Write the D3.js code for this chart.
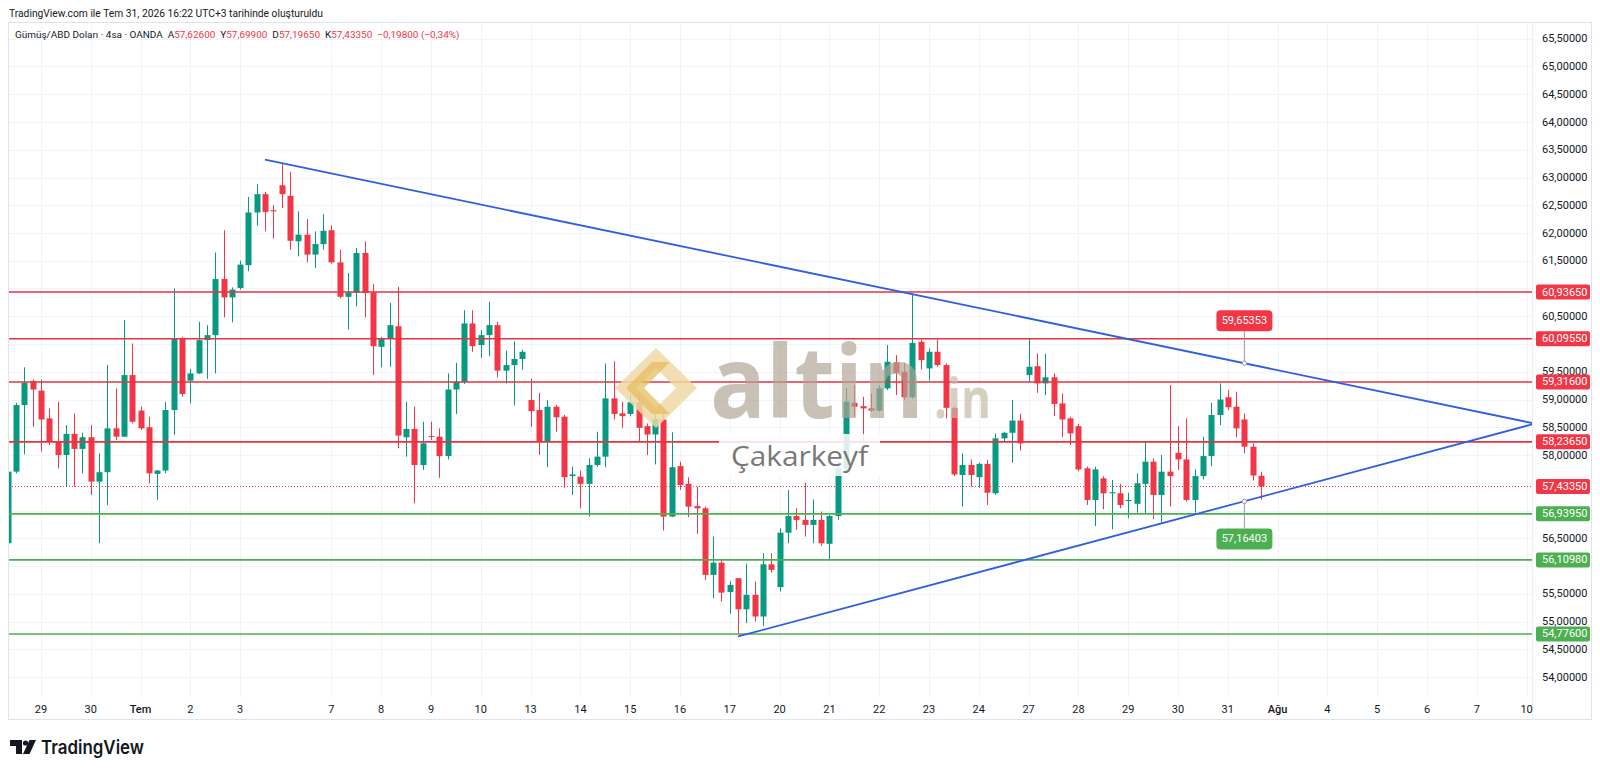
<!DOCTYPE html>
<html>
<head>
<meta charset="utf-8">
<script src="https://cdn.jsdelivr.net/npm/d3@7"></script>
<style>
  html, body { margin: 0; padding: 0; background: #fff; }
  svg { display: block; font-family: Roboto, "Noto Sans", sans-serif; }
</style>
</head>
<body>
<div id="chart"></div>
<script>
// 4h candles, first one sits at index -1 (clipped at the left edge)
const firstIndex = -1;
const open = [56.41, 57.70, 58.90, 59.33, 59.16, 58.66, 58.24, 58.00, 58.38, 58.11, 58.32, 57.52, 57.69, 58.48, 58.33, 59.44,
  58.80, 58.50, 57.66, 57.72, 58.81, 60.09, 59.34, 59.47, 60.07, 60.16, 61.17, 60.84, 61.01, 61.42, 62.37, 62.70,
  62.41, 62.86, 62.67, 61.85, 61.97, 61.61, 61.80, 62.05, 61.47, 60.85, 60.92, 61.64, 60.93, 59.95, 60.09, 60.32,
  58.32, 58.47, 57.82, 58.34, 58.33, 57.98, 59.18, 59.32, 60.37, 59.98, 60.16, 60.34, 59.52, 59.62, 59.73, 58.99,
  58.81, 58.24, 58.87, 58.69, 57.62, 57.61, 57.48, 57.82, 57.97, 59.02, 58.75, 58.74, 58.95, 58.52, 58.37, 58.64,
  56.89, 57.80, 57.48, 57.08, 57.04, 55.84, 56.06, 55.53, 55.78, 55.22, 55.48, 55.09, 56.03, 55.62, 56.60, 56.90,
  56.83, 56.74, 56.83, 56.40, 56.90, 57.76, 58.94, 58.88, 58.84, 58.80, 59.20, 59.67, 59.50, 59.04, 60.04, 59.56,
  59.86, 59.62, 58.85, 57.64, 57.82, 57.60, 57.84, 57.31, 58.30, 58.40, 58.62, 59.44, 59.60, 59.29, 59.40, 58.93,
  58.66, 58.52, 57.76, 57.19, 57.58, 57.31, 57.31, 57.17, 57.12, 57.48, 57.88, 57.28, 57.70, 58.04, 57.92, 57.19,
  57.62, 57.98, 58.72, 59.04, 58.87, 58.64, 58.15, 57.626];
const high = [57.75, 58.94, 59.58, 59.36, 59.36, 58.84, 58.96, 58.54, 58.75, 58.40, 58.54, 58.03, 59.62, 59.20, 60.43, 60.01,
  58.87, 58.69, 57.73, 58.96, 61.00, 60.13, 59.55, 60.40, 60.34, 61.65, 62.05, 61.02, 61.50, 62.65, 62.88, 62.74,
  62.50, 63.24, 63.10, 62.39, 62.25, 62.03, 62.34, 62.14, 61.70, 61.28, 61.73, 61.85, 61.08, 60.13, 60.74, 61.03,
  58.96, 58.87, 58.60, 58.60, 58.48, 59.47, 59.66, 60.61, 60.61, 60.25, 60.76, 60.40, 59.88, 60.05, 59.90, 59.38,
  59.12, 58.99, 58.90, 58.72, 57.79, 57.72, 57.94, 58.42, 59.65, 59.69, 58.96, 59.09, 59.12, 58.57, 58.73, 58.85,
  58.41, 57.88, 57.60, 57.43, 57.07, 56.53, 56.11, 55.73, 55.78, 56.04, 55.72, 56.23, 56.23, 56.68, 57.37, 57.04,
  57.50, 57.20, 56.98, 56.92, 57.88, 59.20, 59.26, 59.05, 59.11, 59.26, 59.98, 59.80, 59.66, 60.91, 60.08, 59.92,
  60.08, 59.65, 58.87, 58.03, 57.92, 57.86, 57.91, 58.39, 58.42, 58.99, 58.74, 60.10, 59.83, 59.82, 59.47, 59.11,
  58.69, 58.56, 57.79, 57.79, 57.62, 57.55, 57.48, 57.32, 57.67, 58.24, 57.94, 58.00, 59.26, 58.52, 58.66, 57.74,
  58.33, 58.94, 59.29, 59.17, 59.14, 58.75, 58.21, 57.699];
const low = [56.35, 57.67, 58.01, 58.51, 58.06, 58.18, 57.76, 57.43, 57.43, 57.67, 57.28, 56.41, 57.10, 58.27, 58.33, 58.57,
  58.45, 57.49, 57.19, 57.67, 58.36, 59.05, 58.93, 59.46, 59.37, 59.47, 60.48, 60.39, 60.98, 61.31, 62.13, 62.03,
  61.90, 62.45, 61.70, 61.58, 61.47, 61.37, 61.70, 61.45, 60.82, 60.26, 60.68, 60.48, 59.44, 59.58, 59.59, 58.12,
  57.97, 57.13, 57.73, 58.27, 57.59, 57.92, 58.74, 59.28, 59.86, 59.75, 59.78, 59.40, 59.29, 58.89, 59.53, 58.51,
  58.00, 57.78, 58.42, 57.41, 57.28, 57.04, 56.89, 57.79, 57.78, 58.64, 58.49, 58.70, 58.25, 58.00, 57.83, 56.64,
  56.88, 57.37, 56.88, 56.58, 55.75, 55.42, 55.36, 55.14, 54.78, 54.97, 55.00, 54.92, 55.88, 55.54, 56.41, 56.65,
  56.53, 56.41, 56.36, 56.11, 56.83, 57.66, 58.69, 58.24, 58.78, 58.78, 59.17, 59.08, 58.99, 59.02, 59.54, 59.34,
  59.59, 58.66, 57.62, 57.07, 57.43, 57.41, 57.10, 57.28, 58.24, 57.86, 58.08, 59.32, 59.12, 59.08, 58.70, 58.32,
  58.18, 57.71, 57.10, 56.72, 57.02, 56.66, 57.04, 56.86, 56.96, 56.94, 56.84, 56.78, 57.07, 57.73, 57.16, 56.96,
  57.56, 57.80, 58.54, 58.81, 58.32, 58.03, 57.54, 57.1965];
const close = [57.70, 58.90, 59.30, 59.18, 58.64, 58.24, 58.00, 58.38, 58.11, 58.32, 57.52, 57.69, 58.48, 58.33, 59.44, 58.60,
  58.48, 57.67, 57.72, 58.81, 60.09, 59.10, 59.47, 60.07, 60.16, 61.17, 60.84, 60.98, 61.43, 62.37, 62.70, 62.38,
  62.39, 62.70, 61.86, 61.97, 61.61, 61.80, 62.04, 61.47, 60.85, 60.93, 61.64, 60.92, 59.96, 60.09, 60.34, 58.35,
  58.47, 57.82, 58.21, 58.33, 57.98, 59.18, 59.32, 60.37, 59.96, 60.16, 60.34, 59.52, 59.62, 59.73, 59.86, 58.79,
  58.24, 58.87, 58.68, 57.60, 57.65, 57.48, 57.82, 57.97, 59.02, 58.74, 58.70, 58.95, 58.49, 58.37, 58.65, 56.89,
  57.78, 57.46, 57.07, 57.04, 55.84, 56.06, 55.52, 55.66, 55.22, 55.48, 55.09, 56.03, 55.93, 56.60, 56.90, 56.83,
  56.74, 56.83, 56.41, 56.90, 57.76, 58.96, 58.87, 58.84, 58.80, 59.20, 59.68, 59.48, 59.04, 60.02, 59.71, 59.86,
  59.62, 58.85, 57.65, 57.82, 57.64, 57.84, 57.32, 58.30, 58.40, 58.62, 58.21, 59.59, 59.29, 59.40, 58.92, 58.64,
  58.39, 57.74, 57.19, 57.74, 57.31, 57.33, 57.10, 57.19, 57.49, 57.88, 57.28, 57.70, 57.62, 57.92, 57.19, 57.62,
  57.98, 58.72, 59.00, 58.86, 58.48, 58.15, 57.63, 57.4335];

const priceTicks = [54, 54.5, 55, 55.5, 56, 56.5, 57, 57.5, 58, 58.5, 59, 59.5, 60, 60.5, 61, 61.5, 62, 62.5, 63, 63.5, 64, 64.5, 65, 65.5];
const dateLabels = ["29", "30", "Tem", "2", "3", "7", "8", "9", "10", "13", "14", "15", "16", "17", "20", "21", "22", "23", "24", "27", "28", "29", "30", "31", "Ağu", "4", "5", "6", "7", "10"];
const dateIndex = [3, 9, 15, 21, 27, 38, 44, 50, 56, 62, 68, 74, 80, 86, 92, 98, 104, 110, 116, 122, 128, 134, 140, 146, 152, 158, 164, 170, 176, 182];
const boldDates = ["Tem", "Ağu"];

const redLevels = [60.9365, 60.0955, 59.316, 58.2365];
const greenLevels = [56.9395, 56.1098, 54.776];
const lastPrice = 57.4335;

// triangle drawn on the chart: [candle index, price]
const upperTrend = [[30, 63.32], [183, 58.566]];
const lowerTrend = [[87, 54.73], [183, 58.566]];
const trendMarks = [{i: 148, v: 59.65353, side: "up"}, {i: 148, v: 57.16403, side: "down"}];

const symbolName = "Gümüş/ABD Doları · 4sa · OANDA";
const dayChange = -0.198, dayChangePct = -0.34;
const titleLine = "TradingView.com ile Tem 31, 2026 16:22 UTC+3 tarihinde oluşturuldu";

const UP = "#089981", DOWN = "#F23645", GREENLINE = "#4CAF50", BLUE = "#2f5fe0", TXT = "#131722";
const W = 1600, H = 772;
const pane = {left: 9, right: 1532, top: 23, bottom: 697};
const SP = "\u00a0\u00a0";

const fmt = v => d3.format(".5f")(v).replace(".", ",");

const candles = open.map((o, k) => ({i: firstIndex + k, o: o, h: high[k], l: low[k], c: close[k]}));

const x = d3.scaleLinear().domain([0, 150]).range([16, 1261]);
const y = d3.scaleLinear().domain([54, 65.5]).range([677, 38.75]);

const svg = d3.select("#chart").append("svg")
  .attr("width", W).attr("height", H);

svg.append("defs").append("clipPath").attr("id", "pane")
  .append("rect")
    .attr("x", pane.left).attr("y", pane.top)
    .attr("width", pane.right - pane.left).attr("height", pane.bottom - pane.top);

// frame + axis separators
svg.append("rect")
  .attr("x", 8.5).attr("y", 22.5).attr("width", 1583).attr("height", 697)
  .attr("fill", "#fff").attr("stroke", "#e0e3eb");
svg.append("line")
  .attr("x1", pane.right + 0.5).attr("x2", pane.right + 0.5).attr("y1", 22).attr("y2", 720)
  .attr("stroke", "#eceef2");

// grid
const grid = svg.append("g").attr("clip-path", "url(#pane)");
grid.selectAll(".hg").data(priceTicks).join("line")
  .attr("x1", pane.left).attr("x2", pane.right)
  .attr("y1", d => Math.round(y(d)) + 0.5).attr("y2", d => Math.round(y(d)) + 0.5)
  .attr("stroke", "#f0f3fa");
grid.selectAll(".vg").data(dateIndex).join("line")
  .attr("x1", d => Math.round(x(d)) + 0.5).attr("x2", d => Math.round(x(d)) + 0.5)
  .attr("y1", pane.top).attr("y2", pane.bottom)
  .attr("stroke", "#f0f3fa");

// candles
const cg = svg.append("g").attr("clip-path", "url(#pane)");
const col = d => d.c >= d.o ? UP : DOWN;
cg.selectAll(".wick").data(candles).join("line")
  .attr("x1", d => Math.round(x(d.i)) + 0.5).attr("x2", d => Math.round(x(d.i)) + 0.5)
  .attr("y1", d => y(d.h)).attr("y2", d => y(d.l))
  .attr("stroke", col).attr("stroke-width", 1);
cg.selectAll(".body").data(candles).join("rect")
  .attr("x", d => Math.round(x(d.i)) - 2.5)
  .attr("y", d => y(Math.max(d.o, d.c)))
  .attr("width", 6)
  .attr("height", d => Math.max(1, Math.abs(y(d.o) - y(d.c))))
  .attr("fill", col);

// horizontal levels
const lv = svg.append("g").attr("clip-path", "url(#pane)");
lv.selectAll(".red").data(redLevels).join("line")
  .attr("x1", pane.left).attr("x2", pane.right)
  .attr("y1", d => y(d)).attr("y2", d => y(d))
  .attr("stroke", "#e5333f").attr("stroke-width", 1.6);
lv.selectAll(".green").data(greenLevels).join("line")
  .attr("x1", pane.left).attr("x2", pane.right)
  .attr("y1", d => y(d)).attr("y2", d => y(d))
  .attr("stroke", GREENLINE).attr("stroke-width", 1.6);
lv.append("line")
  .attr("x1", pane.left).attr("x2", pane.right)
  .attr("y1", Math.round(y(lastPrice)) + 0.5).attr("y2", Math.round(y(lastPrice)) + 0.5)
  .attr("stroke", DOWN).attr("stroke-width", 1).attr("stroke-dasharray", "1,2");

// triangle lines
const line = d3.line().x(d => x(d[0])).y(d => y(d[1]));
[upperTrend, lowerTrend].forEach(t => {
  lv.append("path").datum(t)
    .attr("d", line).attr("fill", "none")
    .attr("stroke", BLUE).attr("stroke-width", 1.8);
});

// price callouts on the triangle
trendMarks.forEach(m => {
  const px = x(m.i), py = y(m.v);
  const by = m.side === "up" ? py - 53 : py + 27;
  const boxTop = m.side === "up" ? by + 21 : by;
  lv.append("line")
    .attr("x1", px).attr("x2", px).attr("y1", py).attr("y2", boxTop)
    .attr("stroke", "#9598a1").attr("stroke-width", 1);
  lv.append("circle").attr("cx", px).attr("cy", py).attr("r", 2.2)
    .attr("fill", "#fff").attr("stroke", "#9598a1");
  lv.append("rect").attr("x", px - 28).attr("y", by).attr("width", 56).attr("height", 21).attr("rx", 4)
    .attr("fill", m.side === "up" ? DOWN : GREENLINE);
  lv.append("text").attr("x", px).attr("y", by + 10.5)
    .attr("text-anchor", "middle").attr("dominant-baseline", "central")
    .attr("fill", "#fff").attr("font-size", 11).text(fmt(m.v));
});

// watermark
const wm = svg.append("g").attr("clip-path", "url(#pane)");
wm.append("path")
  .attr("d", "M656,348 L697,388 L656,428 L615,388 Z M656,368 L636,388 L656,408 L676,388 Z")
  .attr("fill-rule", "evenodd").attr("fill", "#efd9a6").attr("opacity", 0.85);
wm.append("path")
  .attr("d", "M626,388 L652,362 L670,362 L644,388 L670,414 L652,414 Z")
  .attr("fill", "#e4bd62").attr("opacity", 0.75);
wm.append("text").attr("x", 710).attr("y", 418)
  .attr("font-family", "'Open Sans', sans-serif").attr("font-weight", 700).attr("font-size", 100)
  .attr("textLength", 214).attr("lengthAdjust", "spacingAndGlyphs")
  .attr("fill", "#b0a594").attr("opacity", 0.68).text("altin");
wm.append("text").attr("x", 934).attr("y", 418)
  .attr("font-family", "'Open Sans', sans-serif").attr("font-weight", 700).attr("font-size", 56)
  .attr("textLength", 57).attr("lengthAdjust", "spacingAndGlyphs")
  .attr("fill", "#c6bba8").attr("opacity", 0.7).text(".in");
wm.append("rect").attr("x", 719).attr("y", 434).attr("width", 161).attr("height", 42)
  .attr("fill", "#fff").attr("opacity", 0.85);
wm.append("text").attr("x", 731).attr("y", 466)
  .attr("font-family", "'Open Sans', sans-serif").attr("font-size", 27)
  .attr("textLength", 137).attr("lengthAdjust", "spacingAndGlyphs")
  .attr("fill", "#787878").text("Çakarkeyf");

// price axis: ticks that sit under a label box are covered there, skip them
const boxed = redLevels.concat(greenLevels, [lastPrice]);
const freeTicks = priceTicks.filter(t => boxed.every(b => Math.abs(y(t) - y(b)) > 9));
svg.append("g").selectAll("text").data(freeTicks).join("text")
  .attr("x", 1542).attr("y", d => y(d))
  .attr("dominant-baseline", "central")
  .attr("font-size", 11).attr("fill", TXT)
  .text(fmt);

function axisBox(v, color) {
  const g = svg.append("g");
  g.append("rect").attr("x", 1536).attr("y", y(v) - 7.5).attr("width", 54).attr("height", 15)
    .attr("rx", 2).attr("fill", color);
  g.append("text").attr("x", 1542).attr("y", y(v))
    .attr("dominant-baseline", "central").attr("font-size", 11).attr("fill", "#fff")
    .text(fmt(v));
}
redLevels.forEach(v => axisBox(v, DOWN));
greenLevels.forEach(v => axisBox(v, GREENLINE));
axisBox(lastPrice, DOWN);

// time axis
svg.append("g").selectAll("text").data(dateLabels).join("text")
  .attr("x", (d, k) => x(dateIndex[k]))
  .attr("y", 709)
  .attr("text-anchor", "middle").attr("dominant-baseline", "central")
  .attr("font-size", 11).attr("fill", TXT)
  .attr("font-weight", d => boldDates.includes(d) ? 500 : 400)
  .text(d => d);

// header
svg.append("text").attr("x", 9).attr("y", 13)
  .attr("dominant-baseline", "central").attr("font-size", 11).attr("fill", TXT)
  .attr("textLength", 314).attr("lengthAdjust", "spacingAndGlyphs")
  .text(titleLine);

// legend line: fit its font size to the width seen in the reference
const last = candles[candles.length - 1];
const legend = svg.append("text").attr("x", 15).attr("y", 34)
  .attr("dominant-baseline", "central").attr("font-size", 10.5).attr("fill", TXT);
legend.append("tspan").text(symbolName + SP);
[["A", last.o], ["Y", last.h], ["D", last.l], ["K", last.c]].forEach(p => {
  legend.append("tspan").attr("fill", TXT).text(p[0]);
  legend.append("tspan").attr("fill", DOWN).text(fmt(p[1]) + SP);
});
legend.append("tspan").attr("fill", DOWN)
  .text("−" + fmt(Math.abs(dayChange)) + " (−" + d3.format(".2f")(Math.abs(dayChangePct)).replace(".", ",") + "%)");
const natural = legend.node().getComputedTextLength();
if (natural > 0) legend.attr("font-size", (10.5 * 445 / natural).toFixed(2));

// TradingView logo
const logo = svg.append("g").attr("fill", TXT);
logo.append("path").attr("d", "M10,740 H22 V754 H16 V746 H10 Z");
logo.append("circle").attr("cx", 25.5).attr("cy", 743).attr("r", 2.6);
logo.append("path").attr("d", "M29.5,740 H36 L29.5,754 H23 Z");
logo.append("text").attr("x", 41).attr("y", 747)
  .attr("dominant-baseline", "central").attr("font-size", 19).attr("font-weight", 600)
  .attr("font-family", "Inter, Roboto, sans-serif")
  .attr("textLength", 103).attr("lengthAdjust", "spacingAndGlyphs")
  .text("TradingView");
</script>
</body>
</html>
